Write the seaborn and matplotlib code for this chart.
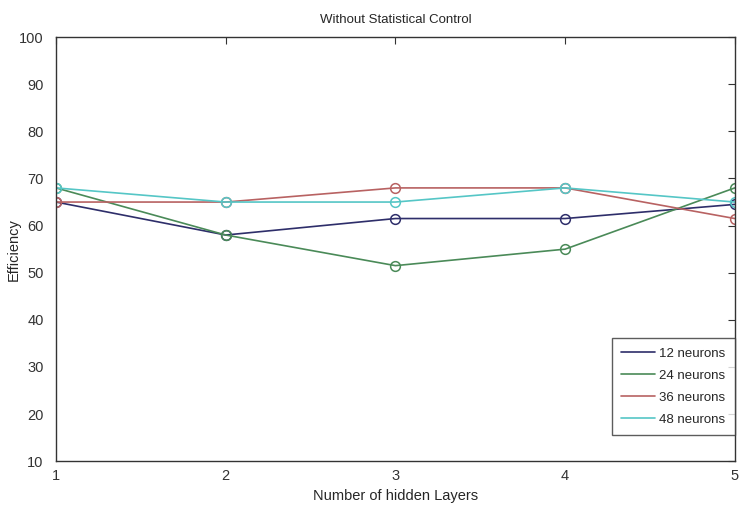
import numpy as np
import pandas as pd
import seaborn as sns
import matplotlib
matplotlib.use('Agg')
import matplotlib.pyplot as plt
from matplotlib.lines import Line2D

layers = [1, 2, 3, 4, 5]
series_names = ['12 neurons', '24 neurons', '36 neurons', '48 neurons']
eff_12 = [65.0, 58.0, 61.5, 61.5, 64.5]
eff_24 = [68.0, 58.0, 51.5, 55.0, 68.0]
eff_36 = [65.0, 65.0, 68.0, 68.0, 61.5]
eff_48 = [68.0, 65.0, 65.0, 68.0, 65.0]
colors = ['#2e2e6a', '#4a8a58', '#b86262', '#55c6c6']

df = pd.DataFrame({
    'layers': layers * 4,
    'eff': eff_12 + eff_24 + eff_36 + eff_48,
    'series': [n for n in series_names for _ in layers],
})

sns.set_style('white')
plt.rcParams['font.family'] = ['Liberation Sans', 'DejaVu Sans']

fig = plt.figure(figsize=(7.41, 5.09), dpi=100)
ax = fig.add_axes([0.0756, 0.094, 0.916, 0.833])

sns.lineplot(data=df, x='layers', y='eff', hue='series', palette=colors,
             marker='o', markersize=7, markerfacecolor='none', markeredgewidth=1.1,
             linewidth=1.2, legend=False, ax=ax)
# seaborn sets marker edge color from the line; keep it matching
for line, c in zip(ax.get_lines(), colors):
    line.set_markeredgecolor(c)

ax.set_xlim(1, 5)
ax.set_ylim(10, 100)
ax.set_xticks(layers)
ax.set_yticks(np.arange(10, 101, 10))
ax.tick_params(direction='in', top=True, right=True, length=5, labelsize=10.5,
               colors='#333333', width=0.8)
ax.tick_params(axis='y', pad=9)
ax.tick_params(axis='x', pad=6)
for s in ax.spines.values():
    s.set_color('#333333')
    s.set_linewidth(1)

ax.set_title('Without Statistical Control', fontsize=9.5, pad=10)
ax.set_xlabel('Number of hidden Layers', fontsize=10.5, labelpad=4)
ax.set_ylabel('Efficiency', fontsize=10.5)
ax.yaxis.set_label_coords(-0.052, 0.5)

handles = [Line2D([0], [0], color=c, linewidth=1.2) for c in colors]
leg = ax.legend(handles, series_names, loc='lower right', fontsize=9.5,
                bbox_to_anchor=(1.0, 0.061), borderaxespad=0,
                frameon=True, fancybox=False, edgecolor='#333333',
                handlelength=2.6, handletextpad=0.3, labelspacing=0.75,
                borderpad=0.7)
leg.get_frame().set_linewidth(1)

fig.savefig('out.png', dpi=100)
